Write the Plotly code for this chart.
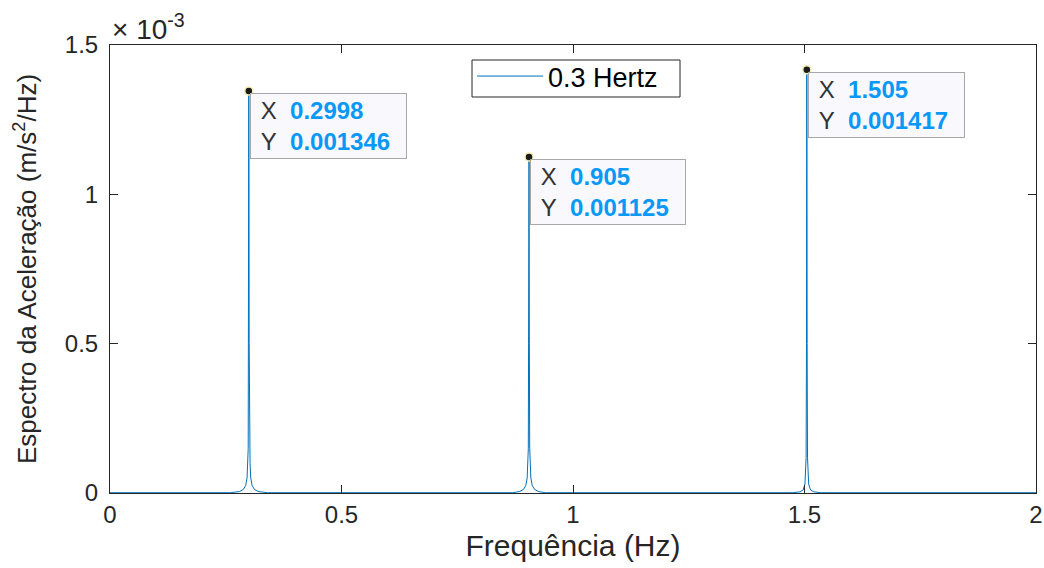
import plotly.graph_objects as go

# Frequency (Hz) and acceleration spectrum (m/s^2/Hz)
freq = [0.0, 0.1, 0.2, 0.26, 0.28, 0.288, 0.293, 0.296, 0.2985, 0.299, 0.2998,
        0.3006, 0.3012, 0.3025, 0.304, 0.307, 0.312, 0.32, 0.34, 0.5, 0.7,
        0.87, 0.885, 0.893, 0.898, 0.901, 0.9035, 0.9043, 0.905, 0.9057, 0.9065,
        0.909, 0.912, 0.917, 0.925, 0.94, 1.1, 1.3,
        1.475, 1.49, 1.497, 1.501, 1.5035, 1.5043, 1.505, 1.5057, 1.5065,
        1.509, 1.513, 1.52, 1.535, 1.7, 1.79, 1.8, 1.81, 1.89, 1.9, 1.91, 2.0]
spectrum = [1e-6, 1e-6, 1e-6, 1e-6, 5e-6, 1.2e-5, 2.5e-5, 5e-5, 1.5e-4, 5e-4, 0.001346,
            5e-4, 1.3e-4, 1.0e-4, 5e-5, 2.5e-5, 1.2e-5, 5e-6, 1e-6, 1e-6, 1e-6,
            1e-6, 5e-6, 1.2e-5, 2.5e-5, 5e-5, 1.5e-4, 5e-4, 0.001125, 5e-4, 1.5e-4,
            5e-5, 2.5e-5, 1.2e-5, 5e-6, 1e-6, 1e-6, 1e-6,
            1e-6, 4e-6, 1e-5, 3e-5, 1.2e-4, 5e-4, 0.001417, 5e-4, 1.2e-4,
            3e-5, 1e-5, 4e-6, 1e-6, 1e-6, 1e-6, 3e-6, 1e-6, 1e-6, 3e-6, 1e-6, 1e-6]

peak_x = [0.2998, 0.905, 1.505]
peak_y = [0.001346, 0.001125, 0.001417]
peak_x_text = ["0.2998", "0.905", "1.505"]
peak_y_text = ["0.001346", "0.001125", "0.001417"]

ytick_vals = [0, 0.0005, 0.001, 0.0015]
ytick_text = ["0", "0.5", "1", "1.5"]
xtick_vals = [0, 0.5, 1, 1.5, 2]
xtick_text = ["0", "0.5", "1", "1.5", "2"]

FONT = "Liberation Sans, Arial, Helvetica, sans-serif"
AX = "#262626"
NB = "\u00a0"

fig = go.Figure()
fig.add_trace(go.Scatter(x=freq, y=spectrum, mode="lines", name="0.3 Hertz",
                         line=dict(color="#0072BD", width=1)))
fig.add_trace(go.Scatter(x=peak_x, y=peak_y, mode="markers", showlegend=False,
                         marker=dict(color="#1a1a1a", size=8,
                                     line=dict(color="#f5eeb0", width=1.5))))

for px, py, tx, ty in zip(peak_x, peak_y, peak_x_text, peak_y_text):
    txt = (f"<span style='color:#333333'>{NB}X</span>{NB}{NB}<b>{tx}</b>{NB}{NB}<br>"
           f"<span style='color:#333333'>{NB}Y</span>{NB}{NB}<b>{ty}</b>{NB}{NB}")
    fig.add_annotation(x=px, y=py, xref="x", yref="y", text=txt, showarrow=False,
                       xanchor="left", yanchor="top", xshift=1, yshift=-2,
                       align="left", bgcolor="#f9f9fd", bordercolor="#a8a8a8",
                       borderwidth=1, borderpad=3,
                       font=dict(family=FONT, size=24, color="#0a98f7"))

fig.add_annotation(x=0, y=1, xref="paper", yref="paper", text=f"×{NB}10<sup>-3</sup>",
                   showarrow=False, xanchor="left", yanchor="bottom", xshift=0, yshift=-2,
                   font=dict(family=FONT, size=28, color=AX))

# legend frame (MATLAB-style box around the legend entry)
fig.add_shape(type="rect", xref="paper", yref="paper",
              x0=(472 - 110) / 926, x1=(680 - 110) / 926,
              y0=(493 - 97) / 448, y1=(493 - 60) / 448,
              line=dict(color=AX, width=1), fillcolor="rgba(0,0,0,0)")

fig.update_layout(
    width=1044, height=568, autosize=False,
    margin=dict(l=110, r=8, t=45, b=75),
    paper_bgcolor="white", plot_bgcolor="white",
    font=dict(family=FONT, size=24, color=AX),
    showlegend=True,
    legend=dict(x=(472 - 110) / 926, y=(493 - 52) / 448, xanchor="left", yanchor="top",
                borderwidth=0, bgcolor="rgba(0,0,0,0)", itemwidth=66,
                font=dict(family=FONT, size=27, color="#000000")),
)
fig.update_xaxes(range=[0, 2], tickvals=xtick_vals, ticktext=xtick_text,
                 automargin=False,
                 showgrid=False, zeroline=False, showline=True, linecolor=AX,
                 linewidth=1, mirror="ticks", ticks="inside", ticklen=8,
                 tickcolor=AX, tickfont=dict(size=24, color=AX),
                 title=dict(text="Frequência (Hz)", font=dict(size=30, color=AX),
                            standoff=8))
fig.update_yaxes(range=[0, 0.0015], tickvals=ytick_vals, ticktext=ytick_text,
                 automargin=False,
                 showgrid=False, zeroline=False, showline=True, linecolor=AX,
                 linewidth=1, mirror="ticks", ticks="inside", ticklen=8,
                 tickcolor=AX, tickfont=dict(size=24, color=AX), ticklabelstandoff=6,
                 title=dict(text="Espectro da Aceleração (m/s<sup>2</sup>/Hz)",
                            font=dict(size=26, color=AX), standoff=20))

fig.write_html("out.html",
               config={"displayModeBar": False, "responsive": False},
               post_script="document.body.style.margin='0px';document.body.style.overflow='hidden';")
